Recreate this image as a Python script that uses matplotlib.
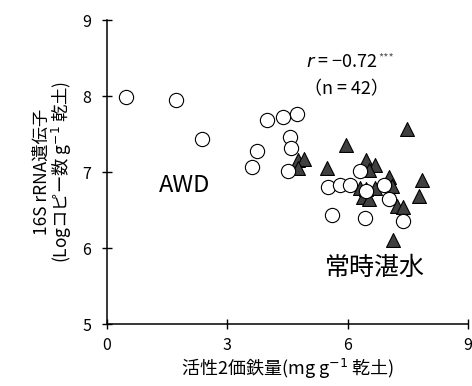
import matplotlib
matplotlib.use("Agg")
import matplotlib.pyplot as plt

plt.rcParams['font.family'] = ['Noto Sans CJK JP', 'DejaVu Sans']
plt.rcParams['mathtext.fontset'] = 'dejavusans'

# AWD (open circles)
awd_x = [0.47, 1.73, 2.38, 3.62, 3.74, 4.00, 4.40, 4.73, 4.55, 4.58, 4.52,
         5.50, 5.81, 6.06, 5.60, 6.31, 6.46, 6.43, 6.91, 7.03, 7.39]
awd_y = [7.99, 7.95, 7.43, 7.07, 7.28, 7.69, 7.73, 7.77, 7.46, 7.32, 7.02,
         6.80, 6.83, 6.83, 6.43, 7.02, 6.75, 6.40, 6.83, 6.65, 6.36]

# continuous flooding (filled triangles)
cf_x = [4.75, 4.91, 4.77, 7.47, 5.95, 5.48, 6.46, 6.68, 6.52, 7.02, 7.10,
        7.86, 7.78, 6.31, 6.68, 6.39, 6.52, 7.22, 7.37, 7.12, 6.45]
cf_y = [7.16, 7.17, 7.05, 7.57, 7.36, 7.05, 7.16, 7.09, 7.03, 6.93, 6.82,
        6.90, 6.68, 6.79, 6.79, 6.67, 6.64, 6.55, 6.54, 6.10, 6.78]

x_ticks = [0, 3, 6, 9]
y_ticks = [5, 6, 7, 8, 9]

fig = plt.figure(figsize=(4.72, 3.86), dpi=100)
ax = fig.add_axes([0.2267, 0.1606, 0.7648, 0.7874])

ax.scatter(cf_x, cf_y, marker='^', s=100, facecolor='#404040',
           edgecolor='black', linewidth=0.8, zorder=2)
ax.scatter(awd_x, awd_y, marker='o', s=105, facecolor='white',
           edgecolor='black', linewidth=0.8, zorder=3)

ax.set_xlim(0, 9)
ax.set_ylim(5, 9)
ax.set_xticks(x_ticks)
ax.set_yticks(y_ticks)
ax.spines['top'].set_visible(False)
ax.spines['right'].set_visible(False)
for s in ['left', 'bottom']:
    ax.spines[s].set_linewidth(1.1)
ax.tick_params(direction='inout', length=7, width=1.0, labelsize=11.5)
ax.tick_params(axis='x', pad=6)
ax.tick_params(axis='y', pad=8)

ax.set_xlabel('活性2価鉄量(mg g$^{-1}$ 乾土)', fontsize=13, labelpad=2)
ax.set_ylabel('16S rRNA遺伝子\n(Logコピー数 g$^{-1}$ 乾土)', fontsize=12.5,
              labelpad=6, linespacing=0.95)

ax.text(1.94, 6.82, 'AWD', fontsize=17, ha='center', va='center')
ax.text(6.68, 5.74, '常時湛水', fontsize=18, ha='center', va='center')
# correlation note, asterisks drawn small and grey after the value
rtxt = ax.text(5.85, 8.45, '$\\mathit{r}$ = \u22120.72', fontsize=13,
               ha='center', va='center')
ax.annotate('***', xy=(1.0, 0.72), xycoords=rtxt, fontsize=8,
            color='#555555', ha='left', va='center',
            xytext=(0.5, 0), textcoords='offset points')
ax.text(5.98, 8.09, '（n = 42）', fontsize=13, ha='center', va='center')

fig.savefig('out.png', dpi=100)
